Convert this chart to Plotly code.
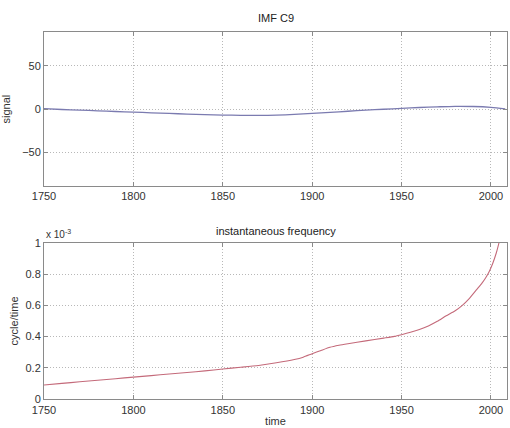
import plotly.graph_objects as go

# IMF C9 component (signal)
years_sig = [1750, 1760, 1770, 1780, 1790, 1800, 1810, 1820, 1830, 1840, 1850,
             1860, 1870, 1880, 1890, 1900, 1910, 1920, 1930, 1940, 1950, 1960,
             1970, 1980, 1990, 2000, 2008]
signal = [0.5, -0.5, -1.2, -2.0, -2.8, -3.5, -4.3, -5.0, -5.8, -6.4, -6.9,
          -7.2, -7.3, -7.0, -6.2, -5.0, -3.8, -2.5, -1.3, -0.2, 0.8, 1.8,
          2.6, 3.2, 3.0, 2.0, 0.3]

# instantaneous frequency, in units of 1e-3 cycle/time
years_freq = [1750, 1760, 1770, 1780, 1790, 1800, 1810, 1820, 1830, 1840, 1850,
              1860, 1870, 1880, 1890, 1895, 1900, 1905, 1910, 1915, 1920, 1930,
              1940, 1946, 1950, 1955, 1960, 1965, 1970, 1975, 1980, 1984, 1988,
              1992, 1995, 1997, 1999, 2001, 2003, 2004.5, 2006, 2008]
freq_e3 = [0.090, 0.100, 0.110, 0.120, 0.130, 0.140, 0.150, 0.160, 0.170, 0.180,
           0.192, 0.203, 0.215, 0.232, 0.253, 0.268, 0.290, 0.311, 0.331, 0.344,
           0.354, 0.372, 0.390, 0.401, 0.412, 0.427, 0.445, 0.468, 0.498, 0.533,
           0.565, 0.600, 0.645, 0.700, 0.742, 0.775, 0.815, 0.868, 0.935, 1.000,
           1.075, 1.180]

x_ticks = [1750, 1800, 1850, 1900, 1950, 2000]
sig_ticks = [-50, 0, 50]
freq_ticks = [0, 0.2, 0.4, 0.6, 0.8, 1]
freq_tick_text = ["0", "0.2", "0.4", "0.6", "0.8", "1"]

FONT = "Liberation Sans, Arial, sans-serif"
AX_COL = "#8a8a8a"
GRID_COL = "#b8b8b8"

fig = go.Figure()
fig.add_trace(go.Scatter(x=years_sig, y=signal, mode="lines",
                         line=dict(color="#7b7bb0", width=1.3, shape="spline",
                                   smoothing=0.8),
                         xaxis="x", yaxis="y", showlegend=False))
fig.add_trace(go.Scatter(x=years_freq, y=freq_e3, mode="lines",
                         line=dict(color="#c46a7a", width=1.1, shape="spline",
                                   smoothing=0.6),
                         xaxis="x2", yaxis="y2", showlegend=False))

axis_common = dict(showline=True, linecolor=AX_COL, linewidth=1, mirror="ticks",
                   ticks="inside", ticklen=4, tickcolor=AX_COL,
                   showgrid=True, gridcolor=GRID_COL, griddash="1px,2px", gridwidth=1,
                   zeroline=False, tickfont=dict(family=FONT, size=11, color="#333333"))

H = 428
mt, mb = 32, 27
ph = H - mt - mb

def frac(ypix):
    return (H - mb - ypix) / ph

fig.update_layout(
    width=510, height=428,
    margin=dict(l=44, r=2, t=mt, b=mb),
    paper_bgcolor="white", plot_bgcolor="white",
    font=dict(family=FONT, size=11, color="#333333"),
    xaxis=dict(axis_common, domain=[0, 1], range=[1750, 2009], tickvals=x_ticks,
               anchor="y"),
    yaxis=dict(axis_common, domain=[frac(187), 1], range=[-89, 89], tickvals=sig_ticks,
               anchor="x",
               title=dict(text="signal", standoff=11, font=dict(family=FONT, size=11))),
    xaxis2=dict(axis_common, domain=[0, 1], range=[1750, 2009], tickvals=x_ticks,
                anchor="y2", ticklabelstandoff=1,
                title=dict(text="time", standoff=2, font=dict(family=FONT, size=11))),
    yaxis2=dict(axis_common, domain=[0, frac(244)], range=[0, 1], tickvals=freq_ticks,
                ticktext=freq_tick_text, anchor="x2",
                title=dict(text="cycle/time", standoff=4, font=dict(family=FONT, size=11))),
    annotations=[
        dict(text="IMF C9", xref="paper", yref="paper", x=0.5, y=1,
             xanchor="center", yanchor="bottom", yshift=6, showarrow=False,
             font=dict(family=FONT, size=11, color="#222222")),
        dict(text="instantaneous frequency", xref="paper", yref="paper", x=0.5,
             y=frac(244), xanchor="center", yanchor="bottom", yshift=4, showarrow=False,
             font=dict(family=FONT, size=11, color="#222222")),
        dict(text="x 10<sup>-3</sup>", xref="paper", yref="paper", x=0, y=frac(244),
             xanchor="left", yanchor="bottom", yshift=1, showarrow=False,
             font=dict(family=FONT, size=10, color="#333333")),
    ],
)

fig.write_html("out.html")
